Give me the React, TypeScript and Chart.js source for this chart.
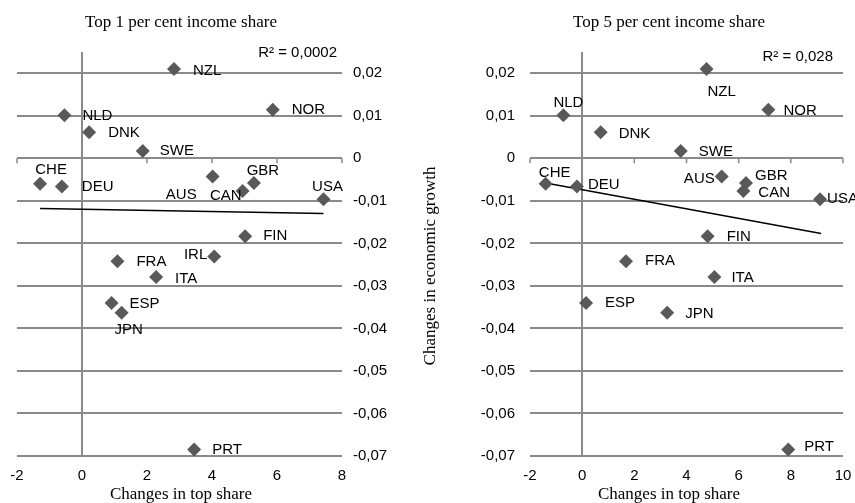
import React, { useEffect, useRef } from 'react';
import { Chart, registerables } from 'chart.js';

Chart.register(...registerables);

// ---------- data ----------
const COUNTRIES = ['NZL', 'NLD', 'NOR', 'DNK', 'SWE', 'CHE', 'DEU', 'AUS', 'CAN', 'GBR', 'USA', 'FIN', 'IRL', 'FRA', 'ITA', 'ESP', 'JPN', 'PRT'];
const GROWTH_CHANGE = [0.021, 0.0101, 0.0114, 0.0061, 0.0017, -0.006, -0.0066, -0.0043, -0.0077, -0.0058, -0.0096, -0.0183, -0.0231, -0.0242, -0.0279, -0.034, -0.0363, -0.0685];
const TOP1_CHANGE = [2.83, -0.54, 5.87, 0.22, 1.87, -1.29, -0.62, 4.02, 4.94, 5.29, 7.43, 5.02, 4.07, 1.09, 2.28, 0.91, 1.22, 3.45];
const TOP5_CHANGE = [4.77, -0.72, 7.14, 0.71, 3.78, -1.4, -0.2, 5.35, 6.18, 6.28, 9.12, 4.81, null, 1.68, 5.07, 0.15, 3.26, 7.9];

const TREND1_X = [-1.29, 7.43];
const TREND1_Y = [-0.0118, -0.013];
const TREND5_X = [-1.4, 9.16];
const TREND5_Y = [-0.0058, -0.0177];

const Y_TICKS = [-0.07, -0.06, -0.05, -0.04, -0.03, -0.02, -0.01, 0, 0.01, 0.02];
const X1_TICKS = [-2, 0, 2, 4, 6, 8];
const X5_TICKS = [-2, 0, 2, 4, 6, 8, 10];

const TITLE_TOP1 = 'Top 1 per cent income share';
const TITLE_TOP5 = 'Top 5 per cent income share';
const X_TITLE = 'Changes in top share';
const Y_TITLE = 'Changes in economic growth';
const R2_TOP1 = 'R² = 0,0002';
const R2_TOP5 = 'R² = 0,028';

// ---------- styles / layout ----------
const GRID = '#8a8a8a';
const MARKER = '#595959';
const SANS = '"Liberation Sans", Arial, sans-serif';
const SERIF = '"Liberation Serif", "Times New Roman", serif';

// label placement: [align, dx, dy]
const OFFSETS_TOP1: Record<string, [CanvasTextAlign, number, number]> = {
  NZL: ['left', 19, 2], NLD: ['left', 18, 0], NOR: ['left', 19, 0], DNK: ['left', 19, 0],
  SWE: ['left', 17, 0], CHE: ['center', 11, -14], DEU: ['left', 20, 0], AUS: ['right', -16, 18],
  CAN: ['right', -1, 5], GBR: ['center', 9, -12], USA: ['center', 4, -12], FIN: ['left', 18, 0],
  IRL: ['right', -7, -2], FRA: ['left', 19, 1], ITA: ['left', 19, 2], ESP: ['left', 18, 1],
  JPN: ['center', 7, 17], PRT: ['left', 18, 0],
};
const OFFSETS_TOP5: Record<string, [CanvasTextAlign, number, number]> = {
  NZL: ['center', 15, 23], NLD: ['center', 5, -13], NOR: ['left', 15, 1], DNK: ['left', 18, 1],
  SWE: ['left', 18, 1], CHE: ['center', 9, -11], DEU: ['left', 11, -2], AUS: ['right', -7, 2],
  GBR: ['left', 9, -7], CAN: ['left', 15, 2], USA: ['left', 7, 0], FIN: ['left', 19, 1],
  FRA: ['left', 19, 0], ITA: ['left', 17, 1], ESP: ['left', 19, 0], JPN: ['left', 18, 1],
  PRT: ['left', 16, -3],
};

const fmtY = (v: number) => (v === 0 ? '0' : v.toFixed(2).replace('.', ','));

const annotPlugin = {
  id: 'annot',
  beforeDatasetsDraw(chart: any) {
    const ctx = chart.ctx;
    const xs = chart.scales.x;
    const ys = chart.scales.y;
    const y0 = ys.getPixelForValue(0);
    ctx.save();
    ctx.strokeStyle = GRID;
    ctx.lineWidth = 1.5;
    xs.ticks.forEach((t: any) => {
      const px = xs.getPixelForValue(t.value);
      ctx.beginPath();
      ctx.moveTo(px, y0);
      ctx.lineTo(px, y0 + 5);
      ctx.stroke();
    });
    ctx.restore();
  },
  afterDatasetsDraw(chart: any, _a: any, opts: any) {
    const ctx = chart.ctx;
    const meta = chart.getDatasetMeta(0);
    const ds = chart.data.datasets[0].data;
    ctx.save();
    ctx.fillStyle = '#000';
    ctx.textBaseline = 'middle';
    ctx.font = '15px ' + SANS;
    meta.data.forEach((el: any, i: number) => {
      const lab = ds[i].label;
      const off = opts.offsets[lab] || ['left', 18, 0];
      ctx.textAlign = off[0];
      ctx.fillText(lab, el.x + off[1], el.y + off[2]);
    });
    const ca = chart.chartArea;
    ctx.textAlign = 'right';
    ctx.fillText(opts.r2, ca.right - opts.r2Inset, ca.top + opts.r2Dy);

    ctx.font = '17px ' + SERIF;
    ctx.textAlign = 'center';
    ctx.fillText(opts.title, opts.centerX, 23);
    ctx.fillText(opts.xTitle, opts.centerX, 495);
    if (opts.yTitle) {
      ctx.translate(opts.yTitleX, opts.yTitleY);
      ctx.rotate(-Math.PI / 2);
      ctx.fillText(opts.yTitle, 0, 0);
    }
    ctx.restore();
  },
};

function buildConfig(side: 'left' | 'right') {
  const isLeft = side === 'left';
  const xv = isLeft ? TOP1_CHANGE : TOP5_CHANGE;
  const points = COUNTRIES.map((c, i) => ({ x: xv[i], y: GROWTH_CHANGE[i], label: c })).filter((p) => p.x !== null);
  const tx = isLeft ? TREND1_X : TREND5_X;
  const ty = isLeft ? TREND1_Y : TREND5_Y;
  const trend = tx.map((x, i) => ({ x, y: ty[i] }));
  const xTicks = isLeft ? X1_TICKS : X5_TICKS;
  return {
    type: 'scatter' as const,
    data: {
      datasets: [
        {
          data: points,
          pointStyle: 'rectRot',
          pointRadius: 7,
          pointHoverRadius: 7,
          backgroundColor: MARKER,
          borderWidth: 0,
          order: 0,
        },
        {
          data: trend,
          showLine: true,
          borderColor: '#000',
          borderWidth: 1.5,
          pointRadius: 0,
          pointHoverRadius: 0,
          order: 1,
        },
      ],
    },
    options: {
      responsive: false,
      animation: false,
      events: [],
      layout: { padding: isLeft ? { top: 52, left: 17, right: 0, bottom: 0 } : { top: 52, left: 0, right: 12, bottom: 0 } },
      plugins: {
        legend: { display: false },
        tooltip: { enabled: false },
        title: { display: false },
        annot: {
          offsets: isLeft ? OFFSETS_TOP1 : OFFSETS_TOP5,
          r2: isLeft ? R2_TOP1 : R2_TOP5,
          r2Inset: isLeft ? 5 : 10,
          r2Dy: isLeft ? 1 : 5,
          title: isLeft ? TITLE_TOP1 : TITLE_TOP5,
          xTitle: X_TITLE,
          centerX: isLeft ? 181 : 254,
          yTitle: isLeft ? null : Y_TITLE,
          yTitleX: 16,
          yTitleY: 266,
        },
      },
      scales: {
        x: {
          type: 'linear',
          position: 'bottom',
          min: xTicks[0],
          max: xTicks[xTicks.length - 1],
          afterBuildTicks: (s: any) => {
            s.ticks = xTicks.map((v) => ({ value: v }));
          },
          afterFit: (s: any) => {
            s.height = 47;
            s.paddingLeft = 0;
            s.paddingRight = 0;
          },
          grid: {
            color: (c: any) => (c.tick && c.tick.value === 0 ? GRID : 'rgba(0,0,0,0)'),
            lineWidth: 2,
            drawTicks: false,
          },
          border: { display: false },
          ticks: { padding: 11, color: '#000', font: { family: SANS, size: 15 } },
        },
        y: {
          type: 'linear',
          position: isLeft ? 'right' : 'left',
          min: -0.07,
          max: 0.025,
          afterBuildTicks: (s: any) => {
            s.ticks = Y_TICKS.map((v) => ({ value: v }));
          },
          afterFit: (s: any) => {
            s.width = isLeft ? 73 : 115;
          },
          grid: { color: GRID, lineWidth: 2, drawTicks: false },
          border: { display: false },
          ticks: {
            padding: isLeft ? 11 : 15,
            color: '#000',
            font: { family: SANS, size: 15 },
            callback: (v: any) => fmtY(Number(v)),
          },
        },
      },
    },
    plugins: [annotPlugin],
  };
}

function ChartCanvas({ side, left, width }: { side: 'left' | 'right'; left: number; width: number }) {
  const ref = useRef<HTMLCanvasElement | null>(null);
  useEffect(() => {
    if (!ref.current) return;
    const chart = new Chart(ref.current, buildConfig(side) as any);
    return () => chart.destroy();
  }, [side]);
  return (
    <canvas
      ref={ref}
      width={width}
      height={503}
      style={{ position: 'absolute', left, top: 0, width, height: 503, display: 'block' }}
    />
  );
}

export default function App() {
  return (
    <div style={{ position: 'absolute', left: 0, top: 0, width: 855, height: 503, background: '#fff', overflow: 'hidden' }}>
      <ChartCanvas side="left" left={0} width={415} />
      <ChartCanvas side="right" left={415} width={440} />
    </div>
  );
}
